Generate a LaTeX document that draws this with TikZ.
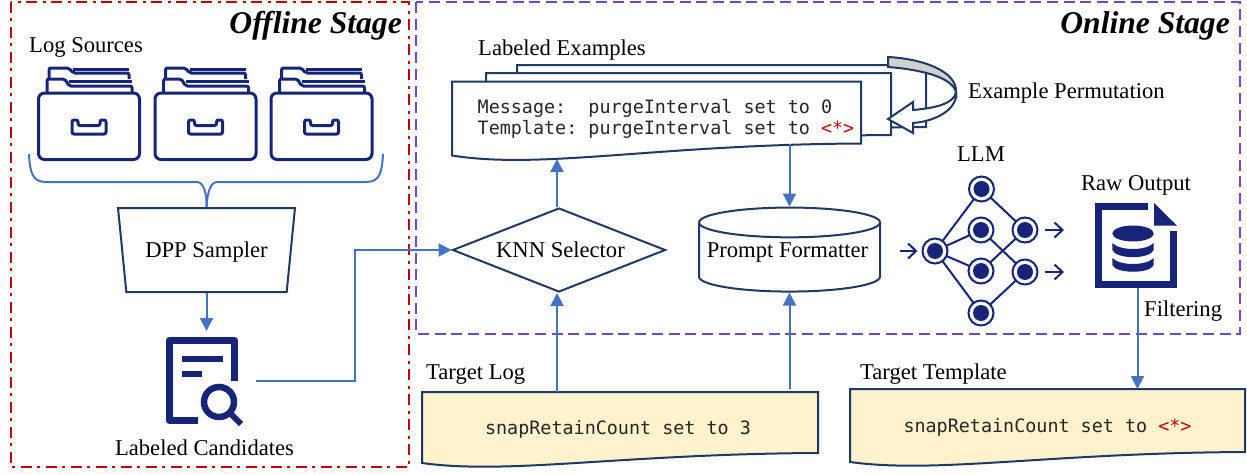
\documentclass[tikz,border=0pt]{standalone}
\usepackage{fontspec}
\setmainfont{Liberation Serif}
\setmonofont{DejaVu Sans Mono}
\usepackage{xcolor}
\usepackage{tikz}
\usetikzlibrary{positioning,calc,shapes.geometric,backgrounds,arrows.meta}
\definecolor{OfflineRed}{RGB}{192,0,0}
\definecolor{OnlinePurple}{RGB}{112,72,208}
\definecolor{FlowBlue}{RGB}{68,114,196}
\definecolor{BorderNavy}{RGB}{31,56,100}
\definecolor{IconNavy}{RGB}{22,36,122}
\definecolor{PaperYellow}{RGB}{255,242,204}
\definecolor{ArrowGray}{RGB}{208,208,208}
\tikzset{
    stagebox/.style={line width=2.2pt},
    stagetitle/.style={anchor=base east, inner sep=0pt, font=\fontsize{31.6}{36}\selectfont\bfseries\itshape},
    labeltext/.style={inner sep=0pt, font=\fontsize{22.6}{26}\selectfont},
    monotext/.style={inner sep=0pt, text=black!85, font=\ttfamily\fontsize{18.4}{21}\selectfont},
    flowarrow/.style={draw=FlowBlue, line width=2pt, -{Triangle[width=13pt,length=13pt]}},
    flowline/.style={draw=FlowBlue, line width=2pt},
    flowbox/.style={draw=BorderNavy, line width=2pt, inner sep=0pt, text depth=0pt, font=\fontsize{22.6}{26}\selectfont},
    pagenode/.style={inner sep=0pt, outer sep=0pt},
    llmnode/.style={circle, draw=IconNavy, fill=white, line width=2pt, minimum size=25pt, inner sep=0pt, outer sep=0pt,
        path picture={\fill[IconNavy] (path picture bounding box.center) circle (8pt);}},
    llmedge/.style={draw=IconNavy, line width=2pt},
    llmarrow/.style={draw=IconNavy, line width=2pt, -{Straight Barb[length=8pt,width=15pt]}},
    iconline/.style={draw=IconNavy, line width=3pt, rounded corners=2pt}
}
% page with a wavy lower edge, drawn behind the node #1
\newcommand{\wavepage}[3]{
    \begin{scope}[on background layer]
        \filldraw[draw=BorderNavy, line width=2pt, fill=#2]
            (#1.north west) -- (#1.north east) -- ($(#1.south east)+(0,-#3)$)
            .. controls ($(#1.south west)!0.5!(#1.south east)+(0,1-#3)$) and ($(#1.south west)!0.22!(#1.south east)+(0,1.2*#3)$)
            .. (#1.south west) -- cycle;
    \end{scope}
}
% folder icon, shifted by #1
\newcommand{\logfolder}[1]{
    \begin{scope}[xshift=#1pt]
        \draw[iconline, fill=white] (49,79) -- (49,68) -- (69,68) -- (73,73) -- (129,73) -- (129,79);
        \draw[iconline] (73,69) -- (129,69);
        \draw[iconline, fill=white] (47,93) -- (47,79) -- (65,79) -- (69,86) -- (132,86) -- (132,93);
        \draw[iconline] (69,81) -- (132,81);
        \draw[iconline, rounded corners=6pt] (38.5,93) rectangle (139.5,159.5);
        \draw[iconline] (72,120) -- (78,120) -- (78,125.5) -- (100,125.5) -- (100,120) -- (106,120) -- (106,134) -- (72,134) -- cycle;
    \end{scope}
}

\begin{document}
\begin{tikzpicture}[x=1pt, y=-1pt]
    \useasboundingbox (0,0) rectangle (1247,474);

    % --- STAGE FRAMES ---
    \node[stagetitle] (offlinetitle) at (402,33) {Offline Stage};
    \node[stagetitle] (onlinetitle) at (1230,33) {Online Stage};
    \draw[stagebox, draw=OfflineRed, dash pattern=on 11pt off 5pt on 3pt off 6pt] (11,2) rectangle (409,467);
    \draw[stagebox, draw=OnlinePurple, dash pattern=on 11pt off 5.7pt] (416,2) rectangle (1240,334);

    % --- LOG SOURCES ---
    \node[labeltext, anchor=base west] (sourcelabel) at (29,52) {Log Sources};
    \logfolder{0}
    \logfolder{116.5}
    \logfolder{232.5}

    % --- DPP SAMPLER ---
    \node[flowbox, trapezium, shape border rotate=180, trapezium stretches=true,
        trapezium left angle=68, trapezium right angle=68,
        minimum width=177pt, minimum height=84pt] (sampler) at (206.5,250) {DPP Sampler};
    \coordinate (bracel) at (29,154);
    \coordinate (bracer) at (383,154);
    \draw[flowline] (bracel) .. controls (30,172) and (32,182) .. (46,182) -- (197,182)
        .. controls (204,182) and (207,195) .. (sampler.north);
    \draw[flowline] (bracer) .. controls (382,172) and (380,182) .. (366,182) -- (217,182)
        .. controls (210,182) and (207,195) .. (sampler.north);

    % --- LABELED CANDIDATES ---
    \node[pagenode, minimum width=90pt, minimum height=87pt] (candidates) at (211,380.5) {};
    \draw[draw=IconNavy, line width=7pt, line join=round] (198,420.5) -- (169.5,420.5) -- (169.5,340.5) -- (234.5,340.5) -- (234.5,381);
    \fill[IconNavy] (181.5,356) rectangle (222.5,362);
    \fill[IconNavy] (181.5,370.5) rectangle (202,376.5);
    \draw[draw=IconNavy, line width=6.5pt] (219,402) circle (15pt);
    \draw[draw=IconNavy, line width=6pt] (230,413) -- (241,424);
    \node[labeltext, anchor=base] (candlabel) at (204.5,455.5) {Labeled Candidates};
    \draw[flowarrow] (sampler.south) -- (sampler.south |- 0,331);

    % --- LABELED EXAMPLES ---
    \node[labeltext, anchor=base west] (examplelabel) at (478,55) {Labeled Examples};
    \node[pagenode, minimum width=409pt, minimum height=74pt] (exback) at (721.5,102) {};
    \wavepage{exback}{white}{12}
    \node[pagenode, minimum width=405pt, minimum height=74pt] (exmid) at (688.5,110) {};
    \wavepage{exmid}{white}{12}
    \node[pagenode, monotext, minimum width=409pt, minimum height=74pt, align=left] (exfront) at (656.5,118.5)
        {\hspace*{19pt}Message:\ \ purgeInterval set to 0\\\hspace*{19pt}Template: purgeInterval set to \textcolor{OfflineRed}{<*>}};
    \wavepage{exfront}{white}{12}
    \coordinate (exin) at (557,159);
    \coordinate (exout) at (789.5,144);

    % --- EXAMPLE PERMUTATION ---
    \draw[draw=BorderNavy, line width=2pt, fill=white, line join=miter]
        (956,92) .. controls (954,104) and (935,108) .. (913,110) -- (913,102) -- (888,119) -- (913,133) -- (913,123)
        .. controls (938,121) and (958,108) .. (956,92);
    \draw[draw=BorderNavy, line width=2pt, fill=ArrowGray]
        (888,57) .. controls (925,59) and (957,72) .. (956,92) .. controls (952,78) and (925,70) .. (888,67) -- cycle;
    \node[labeltext, anchor=base west] (permlabel) at (968,98) {Example Permutation};

    % --- KNN SELECTOR ---
    \node[flowbox, diamond, aspect=2.5, minimum width=213pt, minimum height=84pt] (selector) at (559,250) {\hspace*{3pt}KNN Selector};
    \draw[flowarrow] (exin |- selector.north) -- (exin);
    \draw[flowarrow] (candidates.east) -- (355,380.5) -- (355,250) -- (selector.west);

    % --- PROMPT FORMATTER ---
    \node[flowbox, cylinder, shape border rotate=90, shape aspect=0.18, minimum height=84pt, minimum width=181pt] (prompt) at (789.5,257.5)
        {\raisebox{0pt}[0pt][0pt]{Prompt Formatter\hspace*{4pt}}};
    \draw[flowarrow] (exout) -- (prompt.north);

    % --- LLM ---
    \node[labeltext, anchor=base] (llmlabel) at (981,161) {LLM};
    \node[llmnode] (llmtop) at (981.5,189) {};
    \node[llmnode] (llmmida) at (981,230) {};
    \node[llmnode] (llmmidb) at (981,271) {};
    \node[llmnode] (llmbot) at (981,313) {};
    \node[llmnode] (llmleft) at (935,251) {};
    \node[llmnode] (llmouta) at (1025,230) {};
    \node[llmnode] (llmoutb) at (1025,272) {};
    \foreach \nfrom/\nto in {llmleft/llmtop, llmleft/llmmida, llmleft/llmmidb, llmleft/llmbot,
        llmtop/llmouta, llmmida/llmoutb, llmmidb/llmouta, llmbot/llmoutb}
        \draw[llmedge] (\nfrom) -- (\nto);

    % --- RAW OUTPUT ---
    \node[labeltext, anchor=base] (rawlabel) at (1136,190) {Raw Output};
    \node[pagenode, minimum width=85pt, minimum height=85pt] (raw) at (1137.5,245.5) {};
    \draw[draw=IconNavy, line width=7pt] (1148,206.5) -- (1098.5,206.5) -- (1098.5,284.5) -- (1173.5,284.5) -- (1173.5,230.5);
    \fill[IconNavy] (1154,203) -- (1177,225.7) -- (1154,225.7) -- cycle;
    \fill[IconNavy] (1133,233.5) ellipse (20.7pt and 8pt);
    \fill[IconNavy] (1112.3,243) .. controls (1120,251) and (1146,251) .. (1153.7,243) -- (1153.7,250)
        .. controls (1150,259.5) and (1116,259.5) .. (1112.3,250) -- cycle;
    \fill[IconNavy] (1112.3,258) .. controls (1120,266) and (1146,266) .. (1153.7,258) -- (1153.7,265)
        .. controls (1150,274) and (1116,274) .. (1112.3,265) -- cycle;
    \draw[llmarrow, shorten <=19pt, shorten >=5pt] (prompt.east |- llmleft) -- (llmleft.west);
    \draw[llmarrow, shorten <=7pt, shorten >=31pt] (llmouta.east) -- (llmouta.east -| raw.west);
    \draw[llmarrow, shorten <=7pt, shorten >=31pt] (llmoutb.east) -- (llmoutb.east -| raw.west);
    \node[labeltext, anchor=base west] (filterlabel) at (1144,316.5) {Filtering};

    % --- TARGET LOG ---
    \node[labeltext, anchor=base west] (loglabel) at (426,379) {Target Log};
    \node[pagenode, monotext, text depth=0pt, minimum width=396pt, minimum height=71pt] (targetlog) at (620,427.5) {snapRetainCount set to 3\hspace*{4pt}};
    \wavepage{targetlog}{PaperYellow}{10}
    \draw[flowarrow] (exin |- targetlog.north) -- (exin |- selector.south);
    \draw[flowarrow, shorten <=3pt] (prompt.south |- targetlog.north) -- (prompt.south);

    % --- TARGET TEMPLATE ---
    \node[labeltext, anchor=base west] (templatelabel) at (860,379) {Target Template};
    \node[pagenode, monotext, text depth=0pt, minimum width=395pt, minimum height=73pt] (targettemplate) at (1047.5,425.5) {snapRetainCount set to \textcolor{OfflineRed}{<*>}};
    \wavepage{targettemplate}{PaperYellow}{10}
    \draw[flowarrow] (raw.south) -- (raw.south |- targettemplate.north);
\end{tikzpicture}
\end{document}
